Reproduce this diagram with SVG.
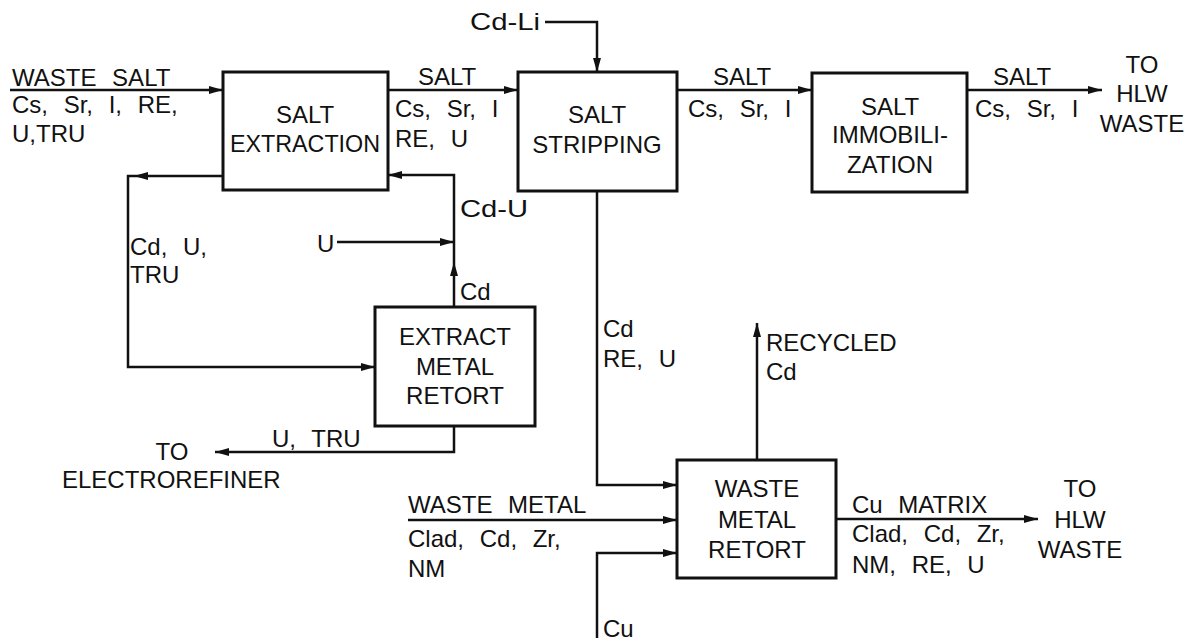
<svg xmlns="http://www.w3.org/2000/svg" width="1189" height="642" viewBox="0 0 1189 642">
<defs>
<marker id="ah" viewBox="0 0 14 8" refX="14" refY="4" markerWidth="14" markerHeight="8" markerUnits="userSpaceOnUse" orient="auto"><path d="M0,0 L14,4 L0,8 z" fill="#111"/></marker>
<style>
.box{fill:none;stroke:#111;stroke-width:3}
.ln{fill:none;stroke:#111;stroke-width:2.5}
.a{marker-end:url(#ah)}
text{font-family:"Liberation Sans",Arial,sans-serif;font-size:24px;fill:#111;word-spacing:9px}
.c{text-anchor:middle}
</style>
</defs>
<rect width="1189" height="642" fill="#fff"/>
<g id="connectors">
<path class="ln a" d="M10,90 H223"/>
<path class="ln a" d="M388,90 H518"/>
<path class="ln a" d="M545,22 H597 V72"/>
<path class="ln a" d="M677,90 H812"/>
<path class="ln a" d="M967,90 H1102"/>
<path class="ln a" d="M223,176 H134"/>
<path class="ln a" d="M134,176 H128 V367 H375"/>
<path class="ln a" d="M454,307 V262"/>
<path class="ln a" d="M454,262 V175 H388"/>
<path class="ln a" d="M337,242 H454"/>
<path class="ln a" d="M454,426 V452 H215"/>
<path class="ln a" d="M597,191 V485 H677"/>
<path class="ln a" d="M757,460 V323"/>
<path class="ln a" d="M408,520 H677"/>
<path class="ln a" d="M597,638 V553 H677"/>
<path class="ln a" d="M836,519 H1038"/>
</g>
<g id="salt-extraction">
<rect class="box" x="223" y="72" width="165" height="118"/>
<text class="c" x="305" y="123">SALT</text>
<text class="c" x="305" y="152" textLength="150" lengthAdjust="spacingAndGlyphs">EXTRACTION</text>
</g>
<g id="salt-stripping">
<rect class="box" x="518" y="72" width="159" height="119"/>
<text class="c" x="597" y="123">SALT</text>
<text class="c" x="597" y="153">STRIPPING</text>
</g>
<g id="salt-immobilization">
<rect class="box" x="812" y="73" width="155" height="119"/>
<text class="c" x="890" y="115">SALT</text>
<text class="c" x="890" y="143">IMMOBILI-</text>
<text class="c" x="890" y="173">ZATION</text>
</g>
<g id="extract-metal-retort">
<rect class="box" x="375" y="307" width="160" height="119"/>
<text class="c" x="455" y="345">EXTRACT</text>
<text class="c" x="455" y="375">METAL</text>
<text class="c" x="455" y="404">RETORT</text>
</g>
<g id="waste-metal-retort">
<rect class="box" x="677" y="460" width="159" height="118"/>
<text class="c" x="757" y="497">WASTE</text>
<text class="c" x="757" y="528">METAL</text>
<text class="c" x="757" y="558">RETORT</text>
</g>
<g id="labels">
<text x="12" y="86">WASTE SALT</text>
<text x="12" y="113">Cs, Sr, I, RE,</text>
<text x="12" y="142">U,TRU</text>
<text x="418" y="85">SALT</text>
<text x="395" y="117">Cs, Sr, I</text>
<text x="395" y="147">RE, U</text>
<text x="470" y="30" textLength="70" lengthAdjust="spacingAndGlyphs">Cd-Li</text>
<text x="713" y="85">SALT</text>
<text x="688" y="117">Cs, Sr, I</text>
<text x="993" y="85">SALT</text>
<text x="975" y="117">Cs, Sr, I</text>
<text class="c" x="1142" y="73">TO</text>
<text class="c" x="1142" y="102">HLW</text>
<text class="c" x="1142" y="132">WASTE</text>
<text x="460" y="217" textLength="68" lengthAdjust="spacingAndGlyphs">Cd-U</text>
<text x="317" y="252">U</text>
<text x="460" y="300">Cd</text>
<text x="130" y="255">Cd, U,</text>
<text x="130" y="283">TRU</text>
<text x="272" y="447">U, TRU</text>
<text class="c" x="172" y="460">TO</text>
<text x="62" y="488">ELECTROREFINER</text>
<text x="603" y="337">Cd</text>
<text x="603" y="367">RE, U</text>
<text x="766" y="351">RECYCLED</text>
<text x="766" y="380">Cd</text>
<text x="408" y="513">WASTE METAL</text>
<text x="408" y="547">Clad, Cd, Zr,</text>
<text x="408" y="577">NM</text>
<text x="603" y="637">Cu</text>
<text x="852" y="513">Cu MATRIX</text>
<text x="852" y="542">Clad, Cd, Zr,</text>
<text x="852" y="573">NM, RE, U</text>
<text class="c" x="1080" y="497">TO</text>
<text class="c" x="1080" y="528">HLW</text>
<text class="c" x="1080" y="558">WASTE</text>
</g>
</svg>
